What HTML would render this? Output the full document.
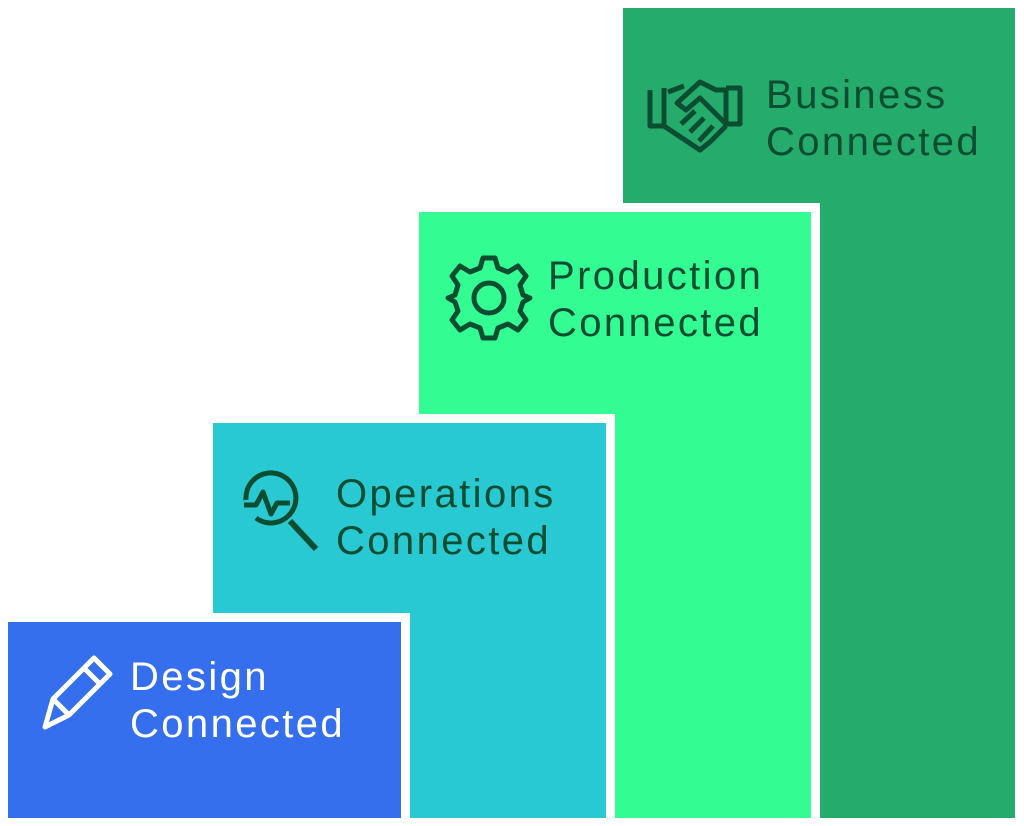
<!DOCTYPE html>
<html><head><meta charset="utf-8"><style>
html,body{margin:0;padding:0;background:#fff;width:1024px;height:826px;overflow:hidden;position:relative}
.p{position:absolute;box-shadow:0 0 0 9px #fff}
.t{position:absolute;font-family:"Liberation Sans",sans-serif;font-size:40px;letter-spacing:2.4px;line-height:47px;color:#0b4d30;white-space:nowrap}
svg{position:absolute;overflow:visible}
</style></head><body>
<div class="p" style="left:623px;top:8px;width:392px;height:810px;background:#25ab6c;box-shadow:none"></div>
<div class="p" style="left:419px;top:212px;width:392px;height:606px;background:#33fc93"></div>
<div class="p" style="left:213px;top:423px;width:393px;height:395px;background:#28c9d2"></div>
<div class="p" style="left:8px;top:622px;width:393px;height:196px;background:#356fee"></div>
<div style="position:absolute;left:0;top:818px;width:1024px;height:8px;background:#fff"></div>

<div class="t" style="left:766px;top:72px">Business<br>Connected</div>
<div class="t" style="left:548px;top:253px">Production<br>Connected</div>
<div class="t" style="left:336px;top:471px">Operations<br>Connected</div>
<div class="t" style="left:130px;top:654px;color:#fff">Design<br>Connected</div>

<!-- handshake -->
<svg style="left:0;top:0" width="1024" height="826" fill="none" stroke="#0b4d30" stroke-width="5" stroke-linejoin="round">
<path d="M650 90 V126 H664 L700 150 L710 142 L718 134 L726 126 M664 126 V88"/>
<path d="M726 88 H740 V124 H726 L700 98 L686 110 L677 103 L700 82 L716 90 H726 V124"/>
<path d="M668 92 L684 86 M690 132 L704 118 M699 141 L713 126 M681 124 L695 111"/>
<!-- gear -->
<g transform="translate(489,298)">
<path d="M-6 -40 H6 L9 -30 L19 -26 L29 -32 L37 -22 L31 -13 L34 -3 L41 0 V0 L34 4 L31 13 L37 22 L29 32 L19 26 L9 30 L6 40 H-6 L-9 30 L-19 26 L-29 32 L-37 22 L-31 13 L-34 4 L-41 0 L-34 -3 L-31 -13 L-37 -22 L-29 -32 L-19 -26 L-9 -30 Z"/>
<circle r="15"/>
</g>
<!-- magnifier -->
<path d="M246 500 A25 25 0 1 1 256 518" />
<path d="M244 505 H256 L263 492 L271 514 L277 503 H290"/>
<path d="M290 521 L316 549" stroke-width="6"/>
<!-- pencil -->
<path d="M45 727 L53 699 L94 658 L110 674 L69 715 Z M84 668 L100 684 M53 699 L69 715" stroke="#fff"/>
</svg>
</body></html>
